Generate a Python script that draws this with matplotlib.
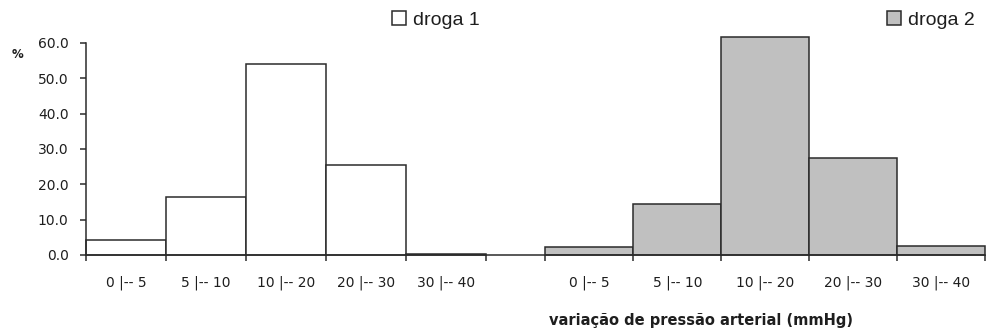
import numpy as np
import matplotlib.pyplot as plt
from matplotlib.patches import Patch

# class intervals and % per drug
categories = ['0 |-- 5', '5 |-- 10', '10 |-- 20', '20 |-- 30', '30 |-- 40']
droga1 = [4.2, 16.3, 54.1, 25.4, 0.4]
droga2 = [2.4, 14.3, 61.6, 27.5, 2.5]
yticks = [0, 10, 20, 30, 40, 50, 60]

edge = '#2b2b2b'
txt = '#1e1e1e'


def main():
    fig = plt.figure(figsize=(9.88, 3.3), dpi=100)
    ax = fig.add_axes([86 / 988, 75 / 330, 899 / 988, 212 / 330])

    # group layout: left group width 1 per class, right group a bit wider
    w1, w2, start2 = 1.0, 1.1, 5.75
    n = len(categories)
    left1 = np.arange(n) * w1
    left2 = start2 + np.arange(n) * w2

    ax.bar(left1, droga1, width=w1, align='edge', color='white',
           edgecolor=edge, linewidth=1.1, clip_on=False, zorder=2)
    ax.bar(left2, droga2, width=w2, align='edge', color='#c0c0c0',
           edgecolor=edge, linewidth=1.1, clip_on=False, zorder=2)

    ax.set_xlim(0, start2 + n * w2)
    ax.set_ylim(0, 60)

    for s in ['top', 'right']:
        ax.spines[s].set_visible(False)
    for s in ['left', 'bottom']:
        ax.spines[s].set_color(edge)
        ax.spines[s].set_linewidth(1.1)

    # edge ticks (unlabelled) and centred class labels
    edges = list(np.append(left1, n * w1)) + list(np.append(left2, start2 + n * w2))
    ax.set_xticks(edges)
    ax.set_xticklabels([])
    ax.set_xticks(list(left1 + w1 / 2) + list(left2 + w2 / 2), minor=True)
    ax.set_xticklabels(categories + categories, minor=True)
    ax.tick_params(axis='x', which='major', length=4.5, width=1.1, color=edge)
    ax.tick_params(axis='x', which='minor', length=0, pad=14.5,
                   labelsize=10, labelcolor=txt)

    ax.set_yticks(yticks)
    ax.set_yticklabels([f'{v:.1f}' for v in yticks])
    ax.tick_params(axis='y', length=4.5, width=1.1, color=edge, pad=8,
                   labelsize=10, labelcolor=txt)
    for lab in ax.get_xticklabels(minor=True) + ax.get_yticklabels():
        lab.set_family('DejaVu Sans')

    fig.text(18 / 988, 1 - 55 / 330, '%', fontsize=8.5, fontweight='bold',
             color=txt, ha='center', va='center')

    ax.set_xlabel('variação de pressão arterial (mmHg)', fontsize=10.5,
                  fontweight='bold', color=txt, family='DejaVu Sans')
    ax.xaxis.set_label_coords((701 - 86) / 899, -(313 - 255) / 212)

    h1 = Patch(facecolor='white', edgecolor=edge, linewidth=1.1, label='droga 1')
    h2 = Patch(facecolor='#c0c0c0', edgecolor=edge, linewidth=1.1, label='droga 2')
    for h, x in [(h1, 392), (h2, 887)]:
        fig.legend(handles=[h], loc='upper left', bbox_to_anchor=(x / 988, 1 - 11 / 330),
                   frameon=False, borderpad=0, borderaxespad=0,
                   handlelength=0.7, handleheight=0.7, handletextpad=0.4,
                   prop={'family': 'Liberation Sans', 'size': 14},
                   labelcolor=txt)

    fig.savefig('out.png', dpi=100)
    plt.close(fig)


if __name__ == '__main__':
    main()
